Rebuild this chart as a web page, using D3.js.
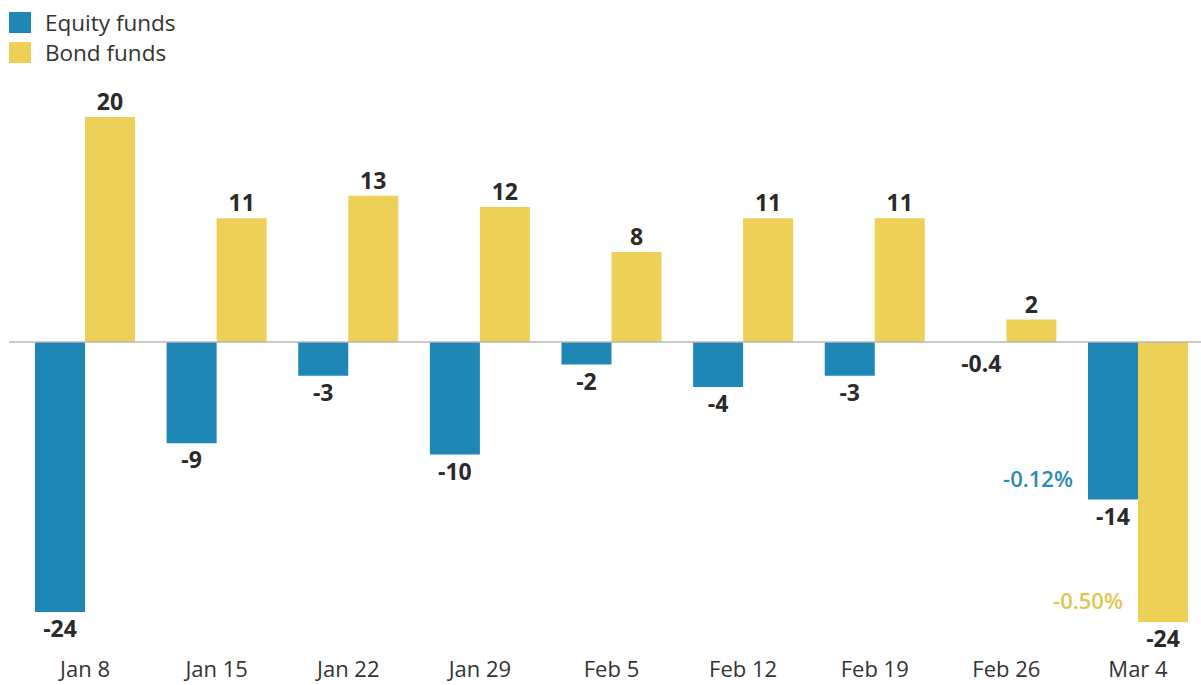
<!DOCTYPE html>
<html>
<head>
<meta charset="utf-8">
<script src="https://cdn.jsdelivr.net/npm/d3@7"></script>
<style>
  html, body { margin: 0; padding: 0; background: #fff; }
  svg { display: block; }
  text { font-family: "Open Sans", "DejaVu Sans", sans-serif; }
</style>
</head>
<body>
<svg id="chart" width="1201" height="685"></svg>
<script>
const categories = ["Jan 8", "Jan 15", "Jan 22", "Jan 29", "Feb 5", "Feb 12", "Feb 19", "Feb 26", "Mar 4"];
const seriesNames = ["Equity funds", "Bond funds"];
const equityValues = [-24, -9, -3, -10, -2, -4, -3, -0.4, -14];
const bondValues = [20, 11, 13, 12, 8, 11, 11, 2, -24.9];
const equityLabels = ["-24", "-9", "-3", "-10", "-2", "-4", "-3", "-0.4", "-14"];
const bondLabels = ["20", "11", "13", "12", "8", "11", "11", "2", "-24"];
const yDomain = [-30.4, 20];
const notes = [
  { series: "Equity funds", category: "Mar 4", text: "-0.12%", value: -14 },
  { series: "Bond funds", category: "Mar 4", text: "-0.50%", value: -24.9 }
];

const colors = { "Equity funds": "#1f87b5", "Bond funds": "#edd058" };
const noteColors = { "Equity funds": "#2b8bb8", "Bond funds": "#e2c550" };

const svg = d3.select("#chart");

const x0 = d3.scaleBand().domain(categories).range([35, 1188]).paddingInner(0.24).paddingOuter(0);
const x1 = d3.scaleBand().domain(seriesNames).range([0, x0.bandwidth()]).padding(0);
const y = d3.scaleLinear().domain(yDomain).range([684, 117]);

const rows = [];
categories.forEach((c, i) => {
  rows.push({ cat: c, series: "Equity funds", value: equityValues[i], label: equityLabels[i] });
  rows.push({ cat: c, series: "Bond funds", value: bondValues[i], label: bondLabels[i] });
});

// bars
svg.append("g").selectAll("rect")
  .data(rows.filter(d => Math.abs(d.value) >= 0.5))
  .join("rect")
  .attr("x", d => x0(d.cat) + x1(d.series))
  .attr("width", x1.bandwidth())
  .attr("y", d => y(Math.max(0, d.value)))
  .attr("height", d => Math.abs(y(d.value) - y(0)))
  .attr("fill", d => colors[d.series]);

// zero line
svg.append("line")
  .attr("x1", 9).attr("x2", 1201)
  .attr("y1", y(0)).attr("y2", y(0))
  .attr("stroke", "#b8b8b8").attr("stroke-width", 1.5);

// value labels
svg.append("g").selectAll("text")
  .data(rows)
  .join("text")
  .attr("x", d => x0(d.cat) + x1(d.series) + x1.bandwidth() / 2)
  .attr("y", d => d.value >= 0 ? y(d.value) - 7 : y(d.value) + 25)
  .attr("text-anchor", "middle")
  .attr("font-size", 23)
  .attr("font-weight", 700)
  .attr("fill", "#2a2a2a")
  .text(d => d.label);

// notes
svg.append("g").selectAll("text")
  .data(notes)
  .join("text")
  .attr("x", d => x0(d.category) + x1(d.series) - 15)
  .attr("y", d => y(d.value) - 13)
  .attr("text-anchor", "end")
  .attr("font-size", 22)
  .attr("font-weight", 600)
  .attr("fill", d => noteColors[d.series])
  .text(d => d.text);

// x axis
const xAxis = d3.axisBottom(x0).tickSize(0).tickPadding(0);
const gx = svg.append("g").attr("transform", "translate(0,677)").call(xAxis);
gx.select(".domain").remove();
gx.selectAll("text")
  .attr("dy", 0)
  .attr("font-size", 22)
  .attr("fill", "#333")
  .style("font-family", "'Open Sans', sans-serif");

// legend
const legend = svg.append("g").selectAll("g")
  .data(seriesNames)
  .join("g")
  .attr("transform", (d, i) => `translate(9, ${12 + i * 30})`);
legend.append("rect").attr("width", 22).attr("height", 21).attr("fill", d => colors[d]);
legend.append("text")
  .attr("x", 36).attr("y", 19)
  .attr("font-size", 22.5)
  .attr("fill", "#333")
  .text(d => d);
</script>
</body>
</html>
